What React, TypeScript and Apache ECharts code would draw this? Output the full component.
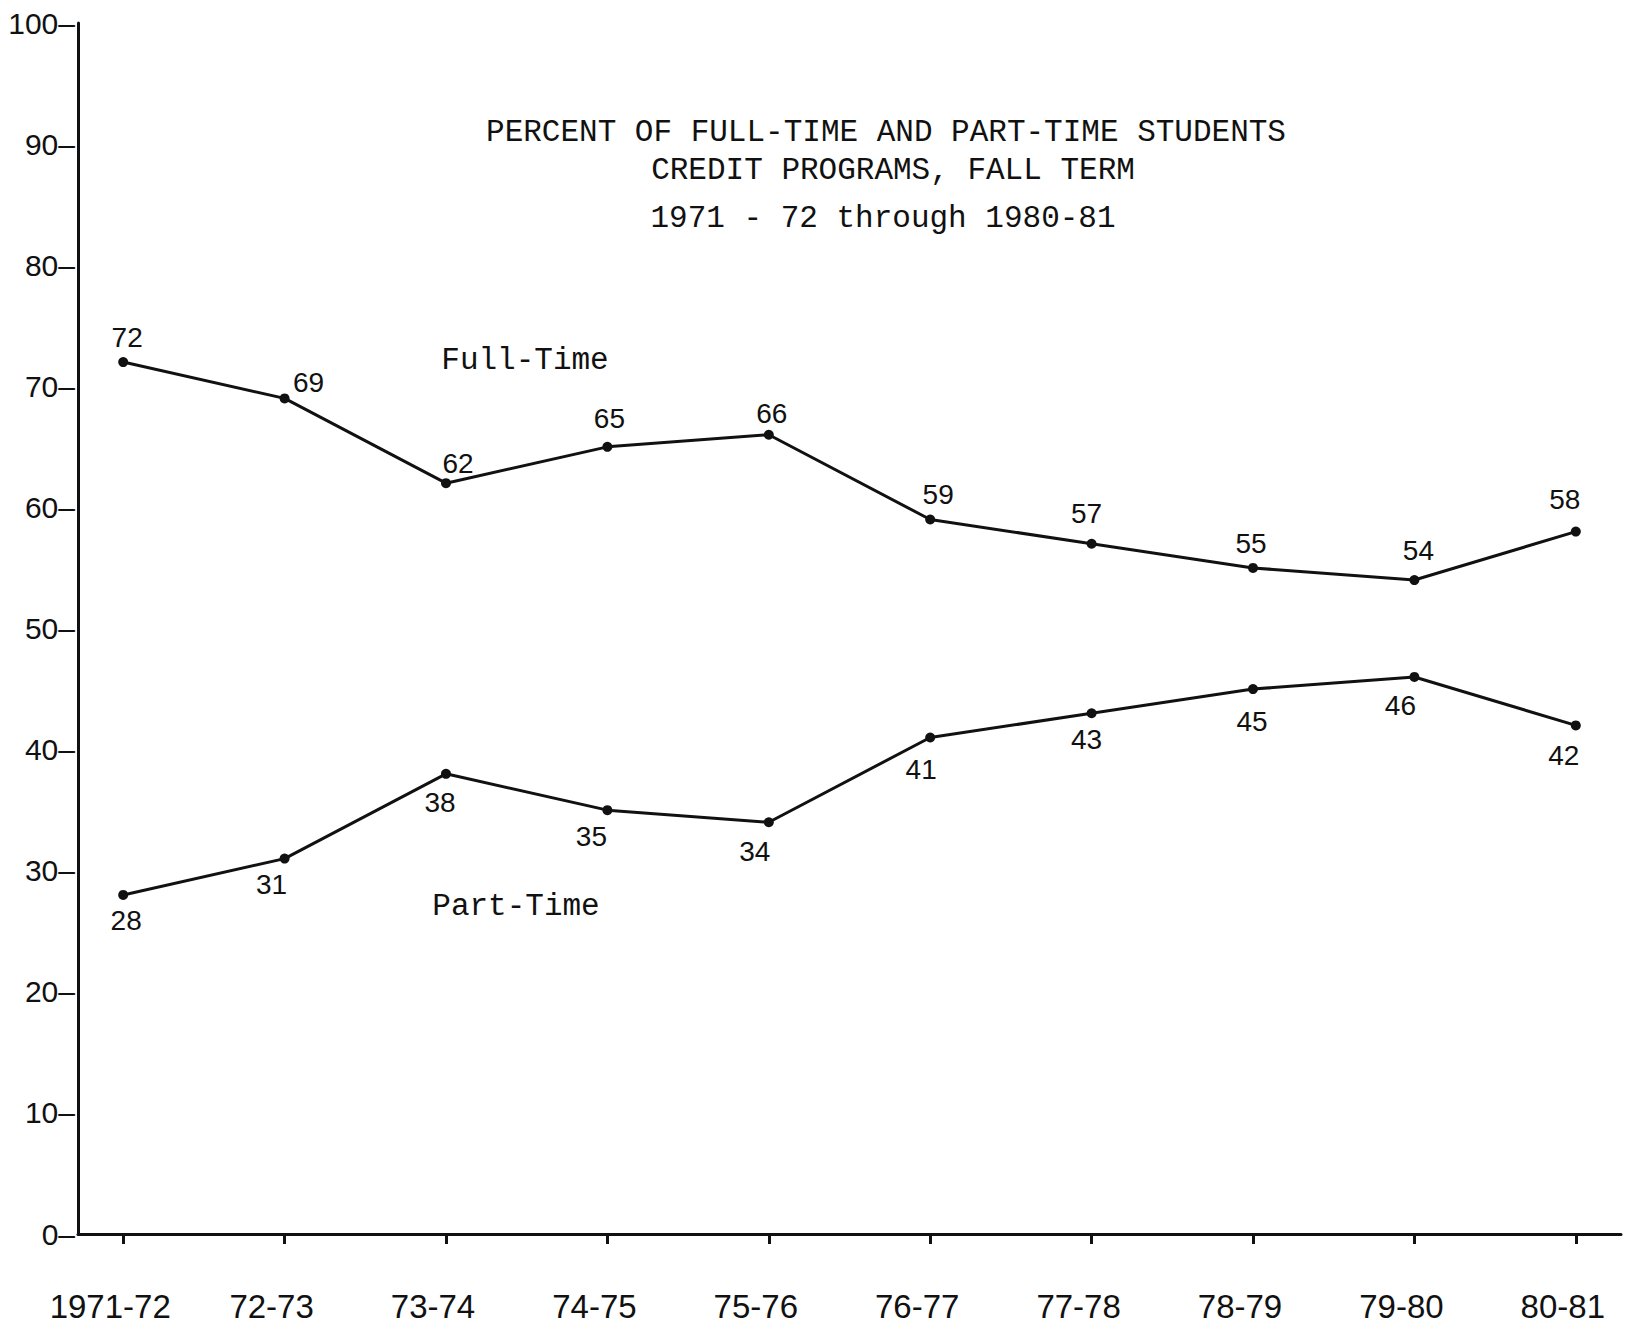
import React, { useEffect, useRef } from "react";
import * as echarts from "echarts";

const categories = ["1971-72", "72-73", "73-74", "74-75", "75-76", "76-77", "77-78", "78-79", "79-80", "80-81"];
const fullTime = [72, 69, 62, 65, 66, 59, 57, 55, 54, 58];
const partTime = [28, 31, 38, 35, 34, 41, 43, 45, 46, 42];
const titleLines = [
  "PERCENT OF FULL-TIME AND PART-TIME STUDENTS",
  "CREDIT PROGRAMS, FALL TERM",
  "1971 - 72 through 1980-81",
];
const seriesNames = ["Full-Time", "Part-Time"];

// label offsets (style only)
const fullOffsets = [[4, -25], [24, -16], [12, -20], [2, -28], [3, -21], [8, -25], [-5, -30], [-2, -24], [4, -30], [-11, -32]];
const partOffsets = [[3, 26], [-13, 26], [-6, 29], [-16, 26], [-14, 29], [-9, 32], [-5, 26], [-1, 32], [-14, 29], [-12, 30]];

const INK = "#111";
const NUM_FONT = "'Liberation Sans', Arial, sans-serif";
const MONO_FONT = "'Liberation Mono', 'Courier New', monospace";

export default function App() {
  const ref = useRef<HTMLDivElement>(null);
  useEffect(() => {
    document.body.style.margin = "0";
    if (!ref.current) return;
    const chart = echarts.init(ref.current, null, { renderer: "svg" });
    const idx = categories.map((_, i) => i);
    const mk = (vals: number[], offs: number[][]) =>
      vals.map((v, i) => ({
        value: [i, v],
        label: { position: "inside", offset: offs[i] },
      }));
    const titleStyle = { fontFamily: MONO_FONT, fontSize: 31, fontWeight: "normal", color: INK };
    chart.setOption({
      animation: false,
      backgroundColor: "#fff",
      grid: { left: 78, right: 5, top: 23, bottom: 96 },
      title: [
        { text: titleLines[0], left: 881, top: 112, textAlign: "center", textStyle: titleStyle },
        { text: titleLines[1], left: 888, top: 150, textAlign: "center", textStyle: titleStyle },
        { text: titleLines[2], left: 878, top: 198, textAlign: "center", textStyle: titleStyle },
      ],
      graphic: [
        { type: "text", x: 525, y: 360, style: { text: seriesNames[0], font: `31px ${MONO_FONT}`, fill: INK, align: "center", verticalAlign: "middle" } },
        { type: "text", x: 516, y: 906, style: { text: seriesNames[1], font: `31px ${MONO_FONT}`, fill: INK, align: "center", verticalAlign: "middle" } },
      ],
      xAxis: {
        type: "value",
        min: -0.28,
        max: 9.28,
        splitLine: { show: false },
        axisLine: { show: true, onZero: false, lineStyle: { color: INK, width: 3 } },
        axisTick: { show: true, customValues: idx, length: 10, lineStyle: { color: INK, width: 3 } },
        axisLabel: {
          customValues: idx,
          formatter: (v: number) => categories[Math.round(v)],
          margin: 56,
          fontSize: 33,
          fontFamily: NUM_FONT,
          color: INK,
          padding: [0, 26, 0, 0],
        },
      },
      yAxis: {
        type: "value",
        min: 0,
        max: 100,
        interval: 10,
        splitLine: { show: false },
        axisLine: { show: true, onZero: false, lineStyle: { color: INK, width: 3 } },
        axisTick: { show: false },
        axisLabel: {
          formatter: (v: number) => `${v}–`,
          margin: 3,
          fontSize: 30,
          fontFamily: NUM_FONT,
          color: INK,
        },
      },
      series: [
        {
          name: seriesNames[0],
          type: "line",
          data: mk(fullTime, fullOffsets),
          symbol: "circle",
          symbolSize: 10,
          itemStyle: { color: INK },
          lineStyle: { color: INK, width: 3 },
          label: { show: true, fontSize: 28, fontFamily: NUM_FONT, color: INK, formatter: (p: any) => String(p.value[1]) },
        },
        {
          name: seriesNames[1],
          type: "line",
          data: mk(partTime, partOffsets),
          symbol: "circle",
          symbolSize: 10,
          itemStyle: { color: INK },
          lineStyle: { color: INK, width: 3 },
          label: { show: true, fontSize: 28, fontFamily: NUM_FONT, color: INK, formatter: (p: any) => String(p.value[1]) },
        },
      ],
    });
    return () => chart.dispose();
  }, []);
  return <div ref={ref} style={{ width: 1626, height: 1330 }} />;
}
